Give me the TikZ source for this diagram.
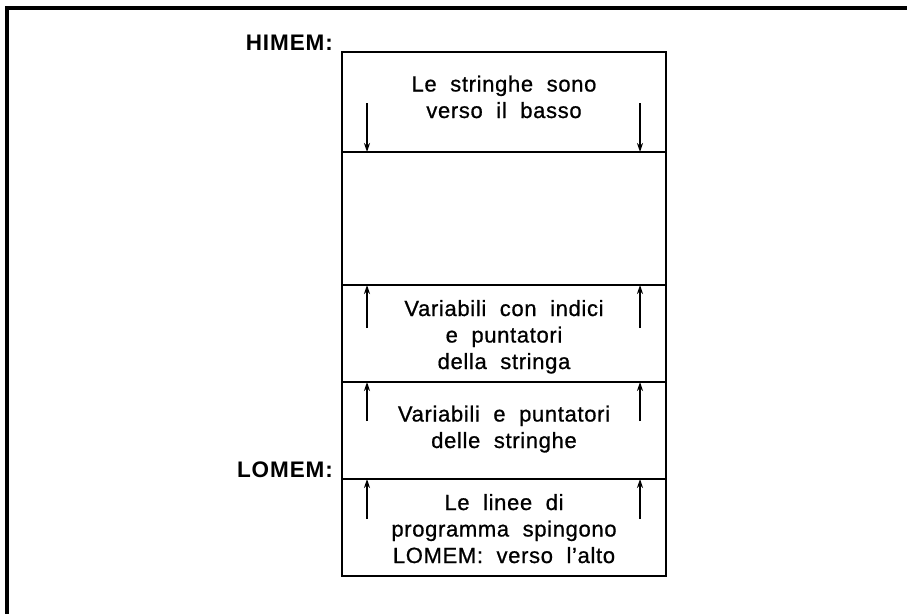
\documentclass[tikz,border=0pt]{standalone}
\usepackage{fontspec}
\setmainfont{Liberation Sans}
\newfontfamily\bodyfont{Liberation Sans}[LetterSpace=3,WordSpace=2,FakeBold=0.8]
\newfontfamily\lblfont{Liberation Sans}[LetterSpace=4]
\usetikzlibrary{arrows.meta}
\begin{document}
\begin{tikzpicture}[x=1pt,y=-1pt,
  frame/.style={line width=3.2pt},
  boxline/.style={line width=2.8pt},
  arr/.style={line width=1.5pt,-{Stealth[length=9pt,width=6pt]}},
  txt/.style={font=\bodyfont\fontsize{22}{26.5}\selectfont,align=center,anchor=base,inner sep=0pt},
  lbl/.style={font=\lblfont\fontsize{22.5}{26}\selectfont\bfseries,anchor=base east,inner sep=0pt}]
\useasboundingbox (0,0) rectangle (907,614);
\draw[frame] (907,8) -- (7,8) -- (7,614);
% memory box boundaries
\coordinate (tl) at (342,52);   \coordinate (tr) at (666,52);
\coordinate (b1l) at (342,152); \coordinate (b1r) at (666,152);
\coordinate (b2l) at (342,285); \coordinate (b2r) at (666,285);
\coordinate (b3l) at (342,382); \coordinate (b3r) at (666,382);
\coordinate (b4l) at (342,479); \coordinate (b4r) at (666,479);
\coordinate (bl) at (342,576);  \coordinate (br) at (666,576);
\draw[boxline] (tl) rectangle (br);
\draw[boxline] (b1l) -- (b1r);
\draw[boxline] (b2l) -- (b2r);
\draw[boxline] (b3l) -- (b3r);
\draw[boxline] (b4l) -- (b4r);
% labels
\node[lbl] (himem) at (333,50) {HIMEM:};
\node[lbl] (lomem) at (333,477) {LOMEM:};
% texts (anchor at baseline of last line)
\node[txt] (t1) at (504,118) {Le stringhe sono\\verso il basso};
\node[txt] (t3) at (504,369) {Variabili con indici\\e puntatori\\della stringa};
\node[txt] (t4) at (504,448) {Variabili e puntatori\\delle stringhe};
\node[txt] (t5) at (504,563) {Le linee di\\programma spingono\\LOMEM: verso l’alto};
% arrows
\coordinate (a1s) at (367,103); \coordinate (a1e) at (367,152);
\coordinate (a2s) at (640,103); \coordinate (a2e) at (640,152);
\coordinate (a3s) at (367,328); \coordinate (a3e) at (367,285);
\coordinate (a4s) at (640,328); \coordinate (a4e) at (640,285);
\coordinate (a5s) at (367,421); \coordinate (a5e) at (367,382);
\coordinate (a6s) at (640,421); \coordinate (a6e) at (640,382);
\coordinate (a7s) at (367,519); \coordinate (a7e) at (367,479);
\coordinate (a8s) at (640,519); \coordinate (a8e) at (640,479);
\draw[arr] (a1s) -- (a1e);
\draw[arr] (a2s) -- (a2e);
\draw[arr] (a3s) -- (a3e);
\draw[arr] (a4s) -- (a4e);
\draw[arr] (a5s) -- (a5e);
\draw[arr] (a6s) -- (a6e);
\draw[arr] (a7s) -- (a7e);
\draw[arr] (a8s) -- (a8e);
\end{tikzpicture}
\end{document}
